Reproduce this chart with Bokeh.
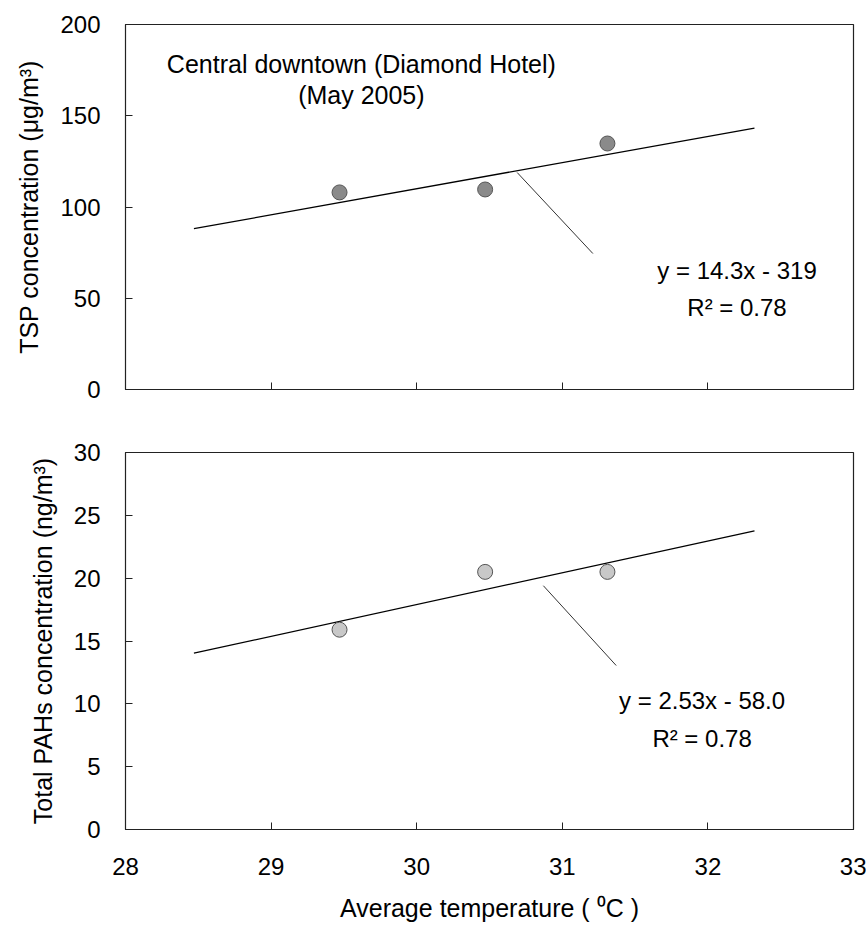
from bokeh.plotting import figure
from bokeh.layouts import column
from bokeh.models import ColumnDataSource, FixedTicker
from bokeh.core.properties import value
from bokeh.embed import file_html
from bokeh.resources import INLINE

# ---- data ----
temperature = [29.47, 30.47, 31.31]
tsp = [108, 109.6, 134.8]
pahs = [15.9, 20.5, 20.5]
fit_x = [28.47, 32.32]
tsp_slope, tsp_icpt = 14.3, -319.0
pah_slope, pah_icpt = 2.53, -58.0
x_ticks = [28, 29, 30, 31, 32, 33]
tsp_ticks = [0, 50, 100, 150, 200]
pah_ticks = [0, 5, 10, 15, 20, 25, 30]

FONT = "Liberation Sans"

def style(p, yticks):
    p.xgrid.visible = False
    p.ygrid.visible = False
    p.outline_line_color = "#222222"
    p.outline_line_width = 1.2
    p.xaxis.ticker = FixedTicker(ticks=x_ticks)
    p.yaxis.ticker = FixedTicker(ticks=yticks)
    for ax in (p.xaxis, p.yaxis):
        ax.major_tick_in = 7
        ax.major_tick_out = 0
        ax.minor_tick_in = 0
        ax.minor_tick_out = 0
        ax.axis_line_color = "#222222"
        ax.major_tick_line_color = "#222222"
        ax.major_label_text_font = FONT
        ax.major_label_text_font_size = "24px"
        ax.major_label_text_color = "black"
        ax.axis_label_text_font = FONT
        ax.axis_label_text_font_size = "25px"
        ax.axis_label_text_font_style = "normal"
        ax.axis_label_text_color = "black"

# ---- top figure ----
p1 = figure(width=866, height=430, x_range=(28, 33), y_range=(0, 200),
            output_backend="svg", toolbar_location=None,
            min_border_left=125, min_border_right=13, min_border_top=24, min_border_bottom=41)
style(p1, tsp_ticks)
p1.xaxis.major_label_overrides = {t: "" for t in x_ticks}
p1.yaxis.axis_label = "TSP concentration (μg/m³)"
p1.yaxis.major_label_standoff = 25
p1.yaxis.axis_label_standoff = 14

p1.line(x=fit_x, y=[tsp_slope * v + tsp_icpt for v in fit_x], line_color="black", line_width=1.3)
p1.segment(x0=[30.69], y0=[118.9], x1=[31.21], y1=[74.5], line_color="#333333", line_width=1)
p1.scatter(x=temperature, y=tsp, size=15, fill_color="#8a8a8a", line_color="#555555", line_width=1)

src1 = ColumnDataSource(dict(x=[29.62, 29.62, 32.20, 32.20],
                             y=[178.6, 161.1, 65.2, 44.9],
                             t=["Central downtown (Diamond Hotel)", "(May 2005)",
                                "y = 14.3x - 319", "R² = 0.78"],
                             s=["25px", "25px", "24px", "24px"]))
p1.text(x="x", y="y", text="t", source=src1, text_font=value(FONT), text_font_size="s",
        text_align="center", text_baseline="middle", text_color="black")

# ---- bottom figure ----
p2 = figure(width=866, height=498, x_range=(28, 33), y_range=(0, 30),
            output_backend="svg", toolbar_location=None,
            min_border_left=125, min_border_right=13, min_border_top=22, min_border_bottom=99)
style(p2, pah_ticks)
p2.xaxis.axis_label = "Average temperature ( ⁰C )"
p2.xaxis.major_label_standoff = 28
p2.xaxis.axis_label_standoff = 16
p2.yaxis.axis_label = "Total PAHs concentration (ng/m³)"
p2.yaxis.major_label_standoff = 25
p2.yaxis.axis_label_standoff = 14

p2.line(x=fit_x, y=[pah_slope * v + pah_icpt for v in fit_x], line_color="black", line_width=1.3)
p2.segment(x0=[30.87], y0=[19.4], x1=[31.37], y1=[13.05], line_color="#333333", line_width=1)
p2.scatter(x=temperature, y=pahs, size=15, fill_color="#c8c8c8", line_color="#555555", line_width=1)

src2 = ColumnDataSource(dict(x=[31.96, 31.96], y=[10.26, 7.24],
                             t=["y = 2.53x - 58.0", "R² = 0.78"]))
p2.text(x="x", y="y", text="t", source=src2, text_font=value(FONT), text_font_size="24px",
        text_align="center", text_baseline="middle", text_color="black")

layout = column(p1, p2, spacing=0)
open("out.html", "w").write(file_html(layout, INLINE))
